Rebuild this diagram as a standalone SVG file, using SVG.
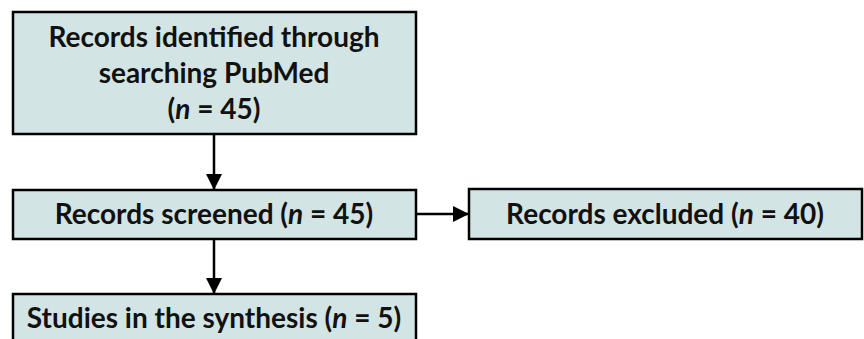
<svg xmlns="http://www.w3.org/2000/svg" width="864" height="339" viewBox="0 0 864 339">
<defs>
<style>
.box{fill:#d2e4e3;stroke:#000;stroke-width:2.5}
.t{font-family:Lato,"Liberation Sans",sans-serif;font-weight:bold;font-size:28px;fill:#111;text-anchor:middle}
.c{stroke:#000;stroke-width:2.5;fill:none}
</style>
<marker id="ah" viewBox="0 0 16 16" refX="16" refY="8" markerWidth="16" markerHeight="16" markerUnits="userSpaceOnUse" orient="auto">
<path d="M0,0 L16,8 L0,16 Z" fill="#000"/>
</marker>
</defs>
<rect width="864" height="339" fill="#fff"/>
<g id="connectors">
<line class="c" x1="214" y1="134" x2="214" y2="190" marker-end="url(#ah)"/>
<line class="c" x1="416" y1="214" x2="469" y2="214" marker-end="url(#ah)"/>
<line class="c" x1="214" y1="239" x2="214" y2="294" marker-end="url(#ah)"/>
</g>
<g id="identified">
<rect class="box" x="13" y="12" width="403" height="122"/>
<text class="t" x="214" y="47">Records identified through</text>
<text class="t" x="214" y="83">searching PubMed</text>
<text class="t" x="214" y="119">(<tspan font-style="italic">n</tspan> = 45)</text>
</g>
<g id="screened">
<rect class="box" x="13" y="190" width="403" height="49"/>
<text class="t" x="214" y="224">Records screened (<tspan font-style="italic">n</tspan> = 45)</text>
</g>
<g id="excluded">
<rect class="box" x="469" y="189" width="393" height="50"/>
<text class="t" x="665" y="224">Records excluded (<tspan font-style="italic">n</tspan> = 40)</text>
</g>
<g id="studies">
<rect class="box" x="13" y="294" width="403" height="50"/>
<text class="t" x="214" y="328">Studies in the synthesis (<tspan font-style="italic">n</tspan> = 5)</text>
</g>
</svg>
